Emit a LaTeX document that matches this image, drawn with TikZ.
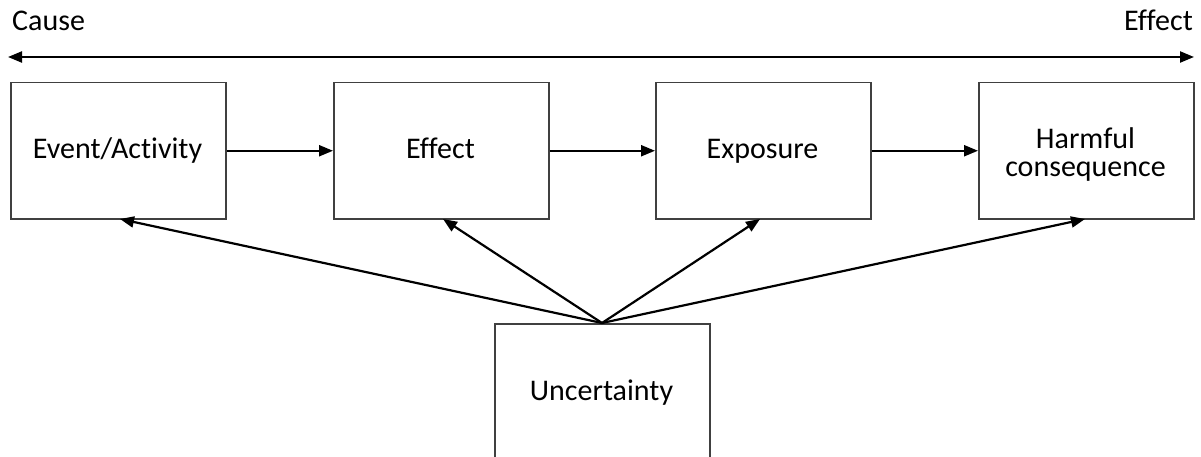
\documentclass[tikz,border=0pt]{standalone}
\usepackage{fontspec}
\setmainfont[Ligatures=NoCommon]{Carlito}
\usetikzlibrary{arrows.meta}
\begin{document}
\begin{tikzpicture}[x=1pt,y=-1pt,
  stage/.style={draw=black!75,line width=1.5pt,minimum width=215pt,minimum height=136pt,
    inner sep=0pt,anchor=north west},
  flow/.style={line width=2.2pt,-{Triangle[length=14pt,width=11pt]}},
  lbl/.style={font=\fontsize{30}{28}\selectfont,inner sep=0pt,align=center,anchor=base}]
\useasboundingbox (0,0) rectangle (1201,457);
\clip (0,0) rectangle (1201,457);
\fill[white] (0,0) rectangle (1201,457);
% timeline from cause to effect
\node[lbl,anchor=base west] (cause) at (12,31) {Cause};
\node[lbl,anchor=base east] (effect) at (1193,31) {Effect};
\coordinate (tl) at (8,57);
\coordinate (tr) at (1194,57);
\draw[line width=2.2pt,{Triangle[length=14pt,width=11pt]}-{Triangle[length=14pt,width=11pt]}] (tl) -- (tr);
% chain of stages
\node[stage] (ev) at (10,82) {};
\node[stage] (ef) at (333,82) {};
\node[stage] (ex) at (655,82) {};
\node[stage] (hc) at (978,82) {};
\node[stage] (un) at (494,323) {};
\node[lbl] (evt) at (117.5,159) {Event/Activity};
\node[lbl] (eft) at (440.5,159) {Effect};
\node[lbl] (ext) at (762.5,159) {Exposure};
\node[lbl] (hct) at (1085.5,149) {Harmful};
\node[lbl] (hct2) at (1085.5,177) {consequence};
\node[lbl] (unt) at (601.5,400) {Uncertainty};
\draw[flow] (ev) -- (ef);
\draw[flow] (ef) -- (ex);
\draw[flow] (ex) -- (hc);
% uncertainty influences every stage
\coordinate (src) at (602,323);
\coordinate (a1) at (120,219);
\coordinate (a2) at (443,219);
\coordinate (a3) at (760,219);
\coordinate (a4) at (1085,219);
\draw[flow] (src) -- (a1);
\draw[flow] (src) -- (a2);
\draw[flow] (src) -- (a3);
\draw[flow] (src) -- (a4);
\end{tikzpicture}
\end{document}
